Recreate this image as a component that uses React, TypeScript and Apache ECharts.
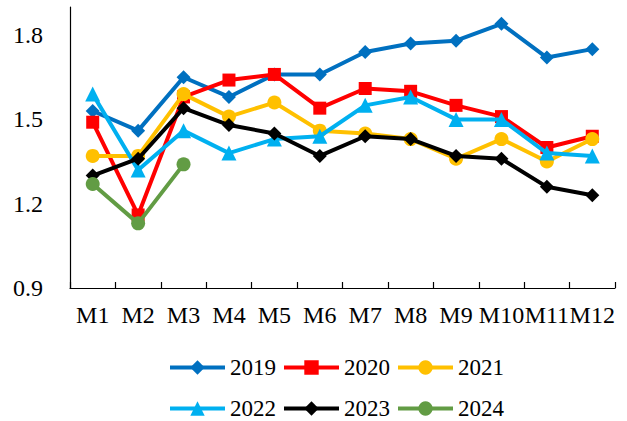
import React, { useEffect, useRef } from "react";
import * as echarts from "echarts";

const months = ["M1", "M2", "M3", "M4", "M5", "M6", "M7", "M8", "M9", "M10", "M11", "M12"];
const years = ["2019", "2020", "2021", "2022", "2023", "2024"];
const v2019 = [1.53, 1.46, 1.65, 1.58, 1.66, 1.66, 1.74, 1.77, 1.78, 1.84, 1.72, 1.75];
const v2020 = [1.49, 1.16, 1.58, 1.64, 1.66, 1.54, 1.61, 1.6, 1.55, 1.51, 1.4, 1.44];
const v2021 = [1.37, 1.37, 1.59, 1.51, 1.56, 1.46, 1.45, 1.43, 1.36, 1.43, 1.35, 1.43];
const v2022 = [1.59, 1.32, 1.46, 1.38, 1.43, 1.44, 1.55, 1.58, 1.5, 1.5, 1.38, 1.37];
const v2023 = [1.3, 1.36, 1.54, 1.48, 1.45, 1.37, 1.44, 1.43, 1.37, 1.36, 1.26, 1.23];
const v2024 = [1.27, 1.13, 1.34];
const yTicks = [0.9, 1.2, 1.5, 1.8];

const colors = ["#0070C0", "#FF0000", "#FFC000", "#00B0F0", "#000000", "#629C44"];
const symbols = ["diamond", "rect", "circle", "triangle", "diamond", "circle"];
const symbolSizes = [14, 13, 14, 15, 14, 14];
const values = [v2019, v2020, v2021, v2022, v2023, v2024];

const FONT = "'Liberation Serif', 'Times New Roman', serif";

export default function App() {
  const ref = useRef<HTMLDivElement>(null);
  useEffect(() => {
    document.body.style.margin = "0";
    if (!ref.current) return;
    const chart = echarts.init(ref.current, undefined, { renderer: "svg" });
    const legendCommon = {
      orient: "horizontal",
      left: 168,
      padding: 0,
      itemWidth: 55,
      itemHeight: 18,
      itemGap: 6,
      lineStyle: { width: 4 },
      textStyle: { fontFamily: FONT, fontSize: 23, color: "#000" },
      selectedMode: false,
    };
    chart.setOption({
      animation: false,
      backgroundColor: "#fff",
      grid: { left: 70, right: 12, top: 7, bottom: 133, containLabel: false },
      legend: [
        { ...legendCommon, top: 356, data: years.slice(0, 3) },
        { ...legendCommon, top: 397, data: years.slice(3) },
      ],
      xAxis: {
        type: "category",
        data: months,
        boundaryGap: true,
        axisLine: { show: true, lineStyle: { color: "#000", width: 1.2 } },
        axisTick: { show: true, inside: true, length: 6, interval: 0, lineStyle: { color: "#000", width: 1.2 } },
        axisLabel: { interval: 0, margin: 15, fontFamily: FONT, fontSize: 24, color: "#000" },
        splitLine: { show: false },
      },
      yAxis: {
        type: "value",
        min: yTicks[0],
        max: 1.9,
        interval: 0.3,
        axisLine: { show: true, lineStyle: { color: "#000", width: 1.2 } },
        axisTick: { show: false },
        splitLine: { show: false },
        axisLabel: {
          showMaxLabel: false,
          margin: 27,
          fontFamily: FONT,
          fontSize: 24,
          color: "#000",
          formatter: (v: number) => v.toFixed(1),
        },
      },
      series: years.map((y, i) => ({
        name: y,
        type: "line",
        data: values[i],
        symbol: symbols[i],
        symbolSize: symbolSizes[i],
        showAllSymbol: true,
        color: colors[i],
        lineStyle: { width: 4, color: colors[i] },
        itemStyle: { color: colors[i] },
        z: 2 + i,
      })),
    });
    return () => chart.dispose();
  }, []);
  return (
    <div
      ref={ref}
      style={{ width: 627, height: 421, position: "absolute", left: 0, top: 0 }}
    />
  );
}
